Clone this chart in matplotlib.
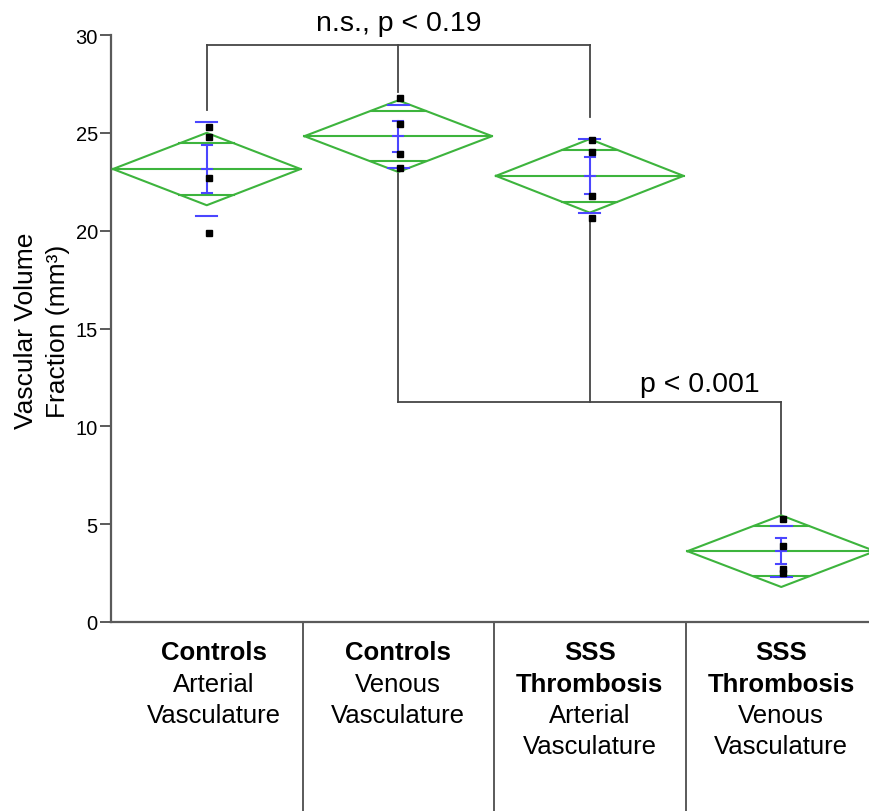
import numpy as np
import matplotlib
matplotlib.use("Agg")
import matplotlib.pyplot as plt
from matplotlib.transforms import blended_transform_factory

plt.rcParams['font.family'] = ['Liberation Sans', 'DejaVu Sans']

# ---- data ----
groups_bold = [["Controls"], ["Controls"], ["SSS", "Thrombosis"], ["SSS", "Thrombosis"]]
groups_regular = [["Arterial", "Vasculature"], ["Venous", "Vasculature"],
                  ["Arterial", "Vasculature"], ["Venous", "Vasculature"]]
points = [
    [25.3, 24.8, 22.7, 19.9],
    [26.8, 25.45, 23.9, 23.2],
    [24.65, 24.0, 21.75, 20.65],
    [5.25, 3.9, 2.7, 2.5],
]
means = [23.15, 24.83, 22.8, 3.62]
ci_half = [1.85, 1.83, 1.88, 1.83]        # means-diamond half height (95% CI)
sd = [2.42, 1.61, 1.88, 1.30]             # std dev ticks
se = [1.23, 0.80, 0.94, 0.66]             # std error bars
yticks = [0, 5, 10, 15, 20, 25, 30]
ann_top = "n.s., p < 0.19"
ann_bottom = "p < 0.001"

GREEN = '#3db43d'
BLUE = '#4b46ff'
LINE = '#454545'
SPINE = '#5a5a5a'

fig = plt.figure(figsize=(8.69, 8.12), dpi=100)
ax = fig.add_axes([111/869, 189/812, 766/869, 587/812])
ax.set_xlim(0.5, 4.5)
ax.set_ylim(0, 30)

x = np.arange(1, len(means) + 1)
hw = 0.49
for xi, m, c, s, e, pts in zip(x, means, ci_half, sd, se, points):
    # diamond
    ax.plot([xi - hw, xi, xi + hw, xi, xi - hw], [m, m + c, m, m - c, m],
            color=GREEN, lw=1.5, zorder=3)
    ax.plot([xi - hw, xi + hw], [m, m], color=GREEN, lw=1.5, zorder=3)
    # overlap marks
    off = c / np.sqrt(2)
    w = hw * (1 - 1 / np.sqrt(2))
    for yy in (m + off, m - off):
        ax.plot([xi - w, xi + w], [yy, yy], color=GREEN, lw=1.5, zorder=3)
    # std dev ticks
    for yy in (m + s, m - s):
        ax.plot([xi - 0.055, xi + 0.055], [yy, yy], color=BLUE, lw=1.5, zorder=4)
    # std error bar
    ax.plot([xi, xi], [m - e, m + e], color=BLUE, lw=1.5, zorder=4)
    for yy in (m - e, m, m + e):
        ax.plot([xi - 0.025, xi + 0.025], [yy, yy], color=BLUE, lw=1.5, zorder=4)
    # points
    ax.plot([xi + 0.01] * len(pts), pts, linestyle='none', marker='s',
            markersize=5, color='black', zorder=5)

# comparison brackets
kw = dict(color=LINE, lw=1.3, clip_on=False, zorder=2)
ytop = 29.5
ax.plot([1, 3], [ytop, ytop], **kw)
ax.plot([1, 1], [ytop, 26.15], **kw)
ax.plot([2, 2], [ytop, 27.1], **kw)
ax.plot([3, 3], [ytop, 25.8], **kw)
ax.text(2.0, 30.62, ann_top, ha='center', va='center', fontsize=20.5, clip_on=False)

ybot = 11.23
ax.plot([2, 4], [ybot, ybot], **kw)
ax.plot([2, 2], [ybot, 23.0], **kw)
ax.plot([3, 3], [ybot, 20.45], **kw)
ax.plot([4, 4], [ybot, 5.5], **kw)
ax.text(3.575, 12.15, ann_bottom, ha='center', va='center', fontsize=20.5)

# axes styling
for sp in ('top', 'right'):
    ax.spines[sp].set_visible(False)
for sp in ('left', 'bottom'):
    ax.spines[sp].set_color(SPINE)
    ax.spines[sp].set_linewidth(1.6)
ax.set_yticks(yticks)
ax.set_yticklabels([str(t) for t in yticks])
ax.tick_params(axis='y', length=8, width=1.4, color=SPINE, labelsize=14.5, pad=1.5)
ax.set_xticks([])

# group separators below the axis
for b in (1.5, 2.5, 3.5):
    ax.plot([b, b], [0, -12], color=SPINE, lw=1.4, clip_on=False)

# category labels
tr = blended_transform_factory(ax.transData, fig.transFigure)
line_y = [(812 - py) / 812 for py in (653, 685, 716, 747)]
xoffs = [0.035, 0.0, 0.0, 0.0]
for i, (bl, rl) in enumerate(zip(groups_bold, groups_regular)):
    k = 0
    for t in bl:
        ax.text(x[i] + xoffs[i], line_y[k], t, transform=tr, ha='center', va='center',
                fontsize=18.5, fontweight='bold')
        k += 1
    for t in rl:
        ax.text(x[i] + xoffs[i], line_y[k], t, transform=tr, ha='center', va='center',
                fontsize=18.5)
        k += 1

# y label
fig.text(42/869, (812 - 331)/812, "Vascular Volume\nFraction (mm\u00b3)", rotation=90,
         ha='center', va='center', fontsize=19, linespacing=1.4, multialignment='center')

fig.savefig("out.png", dpi=100)
